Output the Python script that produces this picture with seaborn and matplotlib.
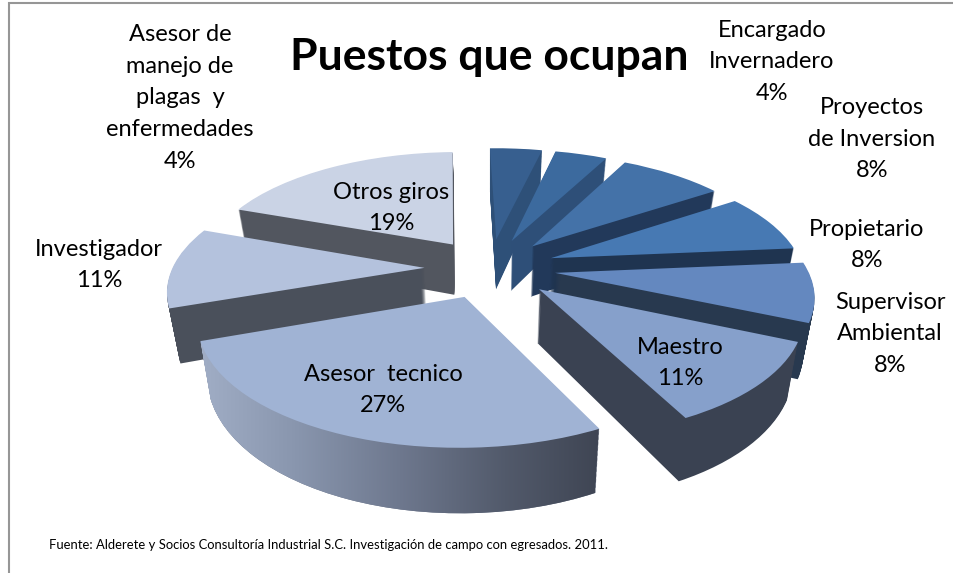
import numpy as np
import matplotlib
matplotlib.use('Agg')
import matplotlib.pyplot as plt
import seaborn as sns
from matplotlib.path import Path
from matplotlib.transforms import Transform, IdentityTransform

puestos = ['Asesor de\nmanejo de\nplagas  y\nenfermedades', 'Encargado\nInvernadero', 'Proyectos\nde Inversion',
           'Propietario', 'Supervisor\nAmbiental', 'Maestro', 'Asesor  tecnico', 'Investigador', 'Otros giros']
porcentajes = [4, 4, 8, 8, 8, 11, 27, 11, 19]

top_colors = ['#375F8F', '#3C6A9E', '#4472A8', '#4779B3', '#6488BF', '#86A0CB', '#A0B3D4', '#B4C2DD', '#CAD3E5']
side_colors = ['#2E5078', '#2E4F78', '#22395A', '#1F3450', '#28394F', '#3A4252', '#6A7488', '#4A505B', '#52565F']

# where each label sits, in pixels of the picture
label_xy = [(180, 98), (772, 62), (872, 139), (867, 245), (890, 334), (680, 363), (383, 390), (99, 265), (391, 208)]

sns.set_theme(style='white')
plt.rcParams['font.family'] = ['Lato', 'DejaVu Sans']

CX, CY = 490, 268
RX, RY = 252, 115
PERSP = 0.166
DEPTH = 52
LAYERS = 52
EXPLODE = 0.26
ASESOR = 6


class Tilt(Transform):
    # flat pie -> picture pixels, z=0 is the top face, z=1 the bottom
    input_dims = 2
    output_dims = 2

    def __init__(self, z=0.0):
        super().__init__()
        self.z = z

    def transform_non_affine(self, xy):
        xy = np.asarray(xy, dtype=float)
        w = 1 + PERSP * xy[:, 1]
        x = RX * xy[:, 0] / w * (1 - 0.035 * self.z)
        y = -RY * xy[:, 1] / w + DEPTH * self.z / w
        return np.column_stack([CX + x, CY + y])


fig = plt.figure(figsize=(9.54, 5.73), dpi=100, facecolor='white')
ax = fig.add_axes([0, 0, 1, 1])


def fix_axes():
    ax.set_aspect('auto')
    ax.set_xlim(0, 954)
    ax.set_ylim(573, 0)
    ax.set_axis_off()


def draw_layer(z, colors, zorder):
    wedges, _ = ax.pie(porcentajes, explode=[EXPLODE] * len(porcentajes), colors=colors, startangle=91.5,
                       counterclock=False, radius=1,
                       wedgeprops={'linewidth': 0, 'zorder': zorder, 'transform': Tilt(z) + ax.transData})
    return wedges


fix_axes()
asesor_paths = []
for i in range(LAYERS, 0, -1):
    z = i / LAYERS
    wedges = draw_layer(z, side_colors, 1 + (LAYERS - i) * 0.01)
    asesor_paths.append(wedges[ASESOR])
fix_axes()

# the front wedge has a light to dark shine on its rim
clip = Path.make_compound_path(*[w.get_transform().transform_path(w.get_path()) for w in asesor_paths])
shine = sns.blend_palette(['#A3B0C8', '#8996AE', '#6E788E', '#525A6B', '#3D4351'], as_cmap=True)
im = ax.imshow(np.linspace(0, 1, 256).reshape(1, -1), cmap=shine, extent=(190, 610, 520, 290), aspect='auto', zorder=3)
im.set_clip_path(clip, IdentityTransform())
fix_axes()

draw_layer(0, top_colors, 4)
fix_axes()

for name, pct, (x, y) in zip(puestos, porcentajes, label_xy):
    ax.text(x, y, f'{name}\n{pct}%', ha='center', va='center', fontsize=17, color='black', linespacing=1.64, zorder=5)

ax.text(489, 57, 'Puestos que ocupan', ha='center', va='center', fontsize=32, fontweight='bold', color='black', zorder=5)
ax.text(49, 545, 'Fuente: Alderete y Socios Consultoría Industrial S.C. Investigación de campo con egresados. 2011.',
        ha='left', va='center', fontsize=9.4, color='black', zorder=5)

# only the top and left edges of the frame are in the picture
ax.plot([9, 9, 954], [573, 3, 3], color='#969696', linewidth=1.5, solid_joinstyle='miter', zorder=6, clip_on=False)
fix_axes()

fig.savefig('out.png', dpi=100, facecolor='white')
